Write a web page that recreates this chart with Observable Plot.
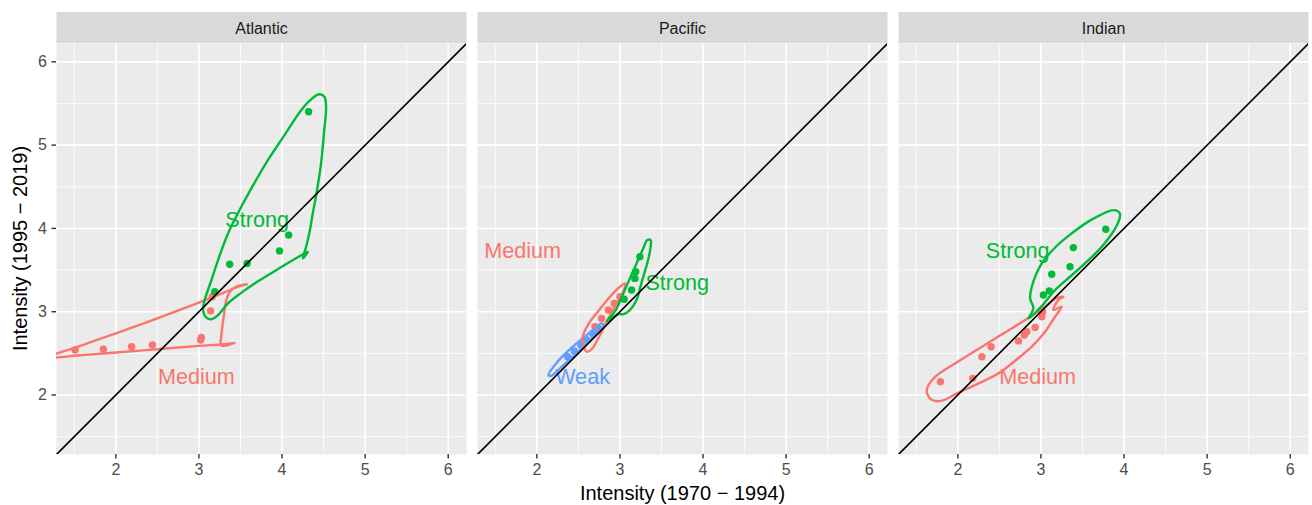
<!DOCTYPE html>
<html><head><meta charset="utf-8">
<script src="https://cdn.jsdelivr.net/npm/d3@7"></script>
<script src="https://cdn.jsdelivr.net/npm/@observablehq/plot@0.6"></script>
<style>
body{margin:0;background:#fff;}
#chart svg{display:block;}
</style>
</head><body><div id="chart"></div>
<script>
// ---------- data ----------
const basins = ["Atlantic", "Pacific", "Indian"];
const classes = ["Medium", "Strong", "Weak"];
const classColors = ["#F8766D", "#00BA38", "#619CFF"];
const axisLimits = [1.286, 6.22];
const majorTicks = [2, 3, 4, 5, 6];
const minorTicks = [1.5, 2.5, 3.5, 4.5, 5.5];
const xTitle = "Intensity (1970 − 1994)";
const yTitle = "Intensity (1995 − 2019)";

// points [x (1970-1994), y (1995-2019)]
const atlanticMedium = [[1.51,2.54],[1.85,2.55],[2.19,2.58],[2.44,2.60],[3.02,2.66],[3.03,2.69],[3.14,3.01],[3.16,3.18]];
const atlanticStrong = [[3.19,3.24],[3.37,3.57],[3.58,3.58],[3.97,3.73],[4.08,3.92],[4.32,5.40]];
const pacificWeak   = [[2.37,2.46],[2.45,2.53],[2.53,2.60],[2.60,2.66],[2.67,2.74],[2.74,2.80]];
const pacificMedium = [[2.70,2.82],[2.78,2.92],[2.86,3.02],[2.93,3.10],[3.00,3.18]];
const pacificStrong = [[3.05,3.15],[3.14,3.26],[3.18,3.40],[3.19,3.48],[3.24,3.66]];
const indianMedium  = [[1.79,2.16],[2.18,2.20],[2.29,2.46],[2.40,2.58],[2.73,2.65],[2.80,2.72],[2.83,2.76],[2.93,2.81],[3.01,2.94],[3.02,3.00]];
const indianStrong  = [[3.03,3.20],[3.10,3.25],[3.13,3.45],[3.35,3.54],[3.39,3.77],[3.78,3.99]];

// encircling outlines
const atlanticMediumHull = [[1.18,2.45],[1.6,2.48],[2.0,2.51],[2.5,2.55],[3.0,2.59],[3.3,2.61],[3.43,2.625],[3.27,2.595],[3.27,2.72],[3.30,2.95],[3.33,3.14],[3.38,3.25],[3.47,3.31],[3.58,3.33],[3.5,3.31],[3.3,3.23],[3.0,3.11],[2.5,2.92],[2.0,2.74],[1.6,2.60]];
const atlanticStrongHull = [[3.05,3.02],[3.07,3.14],[3.15,3.38],[3.23,3.62],[3.35,3.94],[3.51,4.26],[3.67,4.55],[3.83,4.82],[4.03,5.12],[4.23,5.42],[4.35,5.55],[4.45,5.61],[4.51,5.58],[4.53,5.45],[4.51,5.2],[4.47,4.78],[4.42,4.45],[4.37,4.18],[4.33,3.95],[4.29,3.78],[4.25,3.64],[4.31,3.72],[4.20,3.66],[4.03,3.56],[3.85,3.45],[3.67,3.34],[3.50,3.22],[3.35,3.10],[3.22,2.95],[3.15,2.91],[3.09,2.93]];
const pacificWeakHull = [[2.14,2.24],[2.25,2.40],[2.40,2.55],[2.55,2.68],[2.70,2.80],[2.78,2.86],[2.80,2.84],[2.72,2.74],[2.58,2.60],[2.42,2.45],[2.28,2.32],[2.17,2.23]];
const pacificMediumHull = [[2.60,2.52],[2.55,2.68],[2.62,2.85],[2.75,3.02],[2.88,3.18],[3.0,3.30],[3.06,3.34],[3.04,3.24],[2.95,3.08],[2.85,2.90],[2.75,2.70],[2.66,2.55]];
const pacificStrongHull = [[2.84,2.88],[2.95,3.02],[3.04,3.22],[3.12,3.40],[3.20,3.58],[3.28,3.76],[3.33,3.86],[3.37,3.86],[3.36,3.72],[3.32,3.55],[3.26,3.35],[3.20,3.14],[3.12,3.02],[3.04,2.97],[2.98,2.97]];
const indianMediumHull = [[1.63,2.08],[1.63,2.02],[1.69,1.94],[1.80,1.93],[1.99,2.02],[2.25,2.14],[2.49,2.26],[2.70,2.42],[2.89,2.58],[3.05,2.76],[3.17,2.94],[3.25,3.06],[3.15,3.02],[3.21,3.14],[3.27,3.18],[3.18,3.16],[3.05,3.06],[2.81,2.90],[2.55,2.74],[2.29,2.58],[2.0,2.40],[1.73,2.22]];
const indianStrongHull = [[2.85,2.92],[2.91,3.04],[2.87,3.16],[2.89,3.30],[3.01,3.58],[3.18,3.78],[3.37,3.94],[3.60,4.10],[3.88,4.22],[3.95,4.18],[3.92,4.05],[3.75,3.80],[3.53,3.58],[3.35,3.42],[3.17,3.26],[3.02,3.08]];

// group labels [basin, class, x, y]
const groupLabels = [
  ["Atlantic","Strong",3.70,4.10],["Atlantic","Medium",2.97,2.22],
  ["Pacific","Medium",1.83,3.73],["Pacific","Strong",3.69,3.34],["Pacific","Weak",2.55,2.22],
  ["Indian","Strong",2.72,3.73],["Indian","Medium",2.96,2.22]
];

// ---------- tables ----------
const points = [];
const addPts = (basin, cls, arr) => arr.forEach(([x, y]) => points.push({basin, cls, x, y}));
addPts("Atlantic","Medium",atlanticMedium); addPts("Atlantic","Strong",atlanticStrong);
addPts("Pacific","Weak",pacificWeak); addPts("Pacific","Medium",pacificMedium); addPts("Pacific","Strong",pacificStrong);
addPts("Indian","Medium",indianMedium); addPts("Indian","Strong",indianStrong);

const hulls = [];
const addHull = (basin, cls, arr) => arr.forEach(([x, y]) => hulls.push({basin, cls, x, y, key: basin + cls}));
addHull("Atlantic","Medium",atlanticMediumHull); addHull("Atlantic","Strong",atlanticStrongHull);
addHull("Pacific","Weak",pacificWeakHull); addHull("Pacific","Medium",pacificMediumHull); addHull("Pacific","Strong",pacificStrongHull);
addHull("Indian","Medium",indianMediumHull); addHull("Indian","Strong",indianStrongHull);

const labels = groupLabels.map(([basin, cls, x, y]) => ({basin, cls, x, y}));
const diag = axisLimits.map(v => ({x: v, y: v}));

const font = "'Liberation Sans', Arial, Helvetica, sans-serif";
const fmt = d => String(d);

const plot = Plot.plot({
  width: 1312, height: 505,
  marginTop: 43, marginBottom: 51, marginLeft: 55, marginRight: 3,
  style: {fontFamily: font, background: "white", overflow: "visible"},
  x: {domain: axisLimits},
  y: {domain: axisLimits},
  fx: {domain: basins, paddingInner: 0.025, paddingOuter: 0, axis: null, label: null},
  color: {domain: classes, range: classColors},
  marks: [
    Plot.frame({fill: "#ebebeb", stroke: null}),
    Plot.gridX(minorTicks, {stroke: "white", strokeOpacity: 1, strokeWidth: 0.8}),
    Plot.gridY(minorTicks, {stroke: "white", strokeOpacity: 1, strokeWidth: 0.8}),
    Plot.gridX(majorTicks, {stroke: "white", strokeOpacity: 1, strokeWidth: 1.6}),
    Plot.gridY(majorTicks, {stroke: "white", strokeOpacity: 1, strokeWidth: 1.6}),
    Plot.axisX(majorTicks, {tickSize: 4.5, tickPadding: 5, stroke: "#333333", strokeWidth: 1.4, fill: "#4d4d4d", fontSize: 16, tickFormat: fmt, label: null}),
    Plot.axisY(majorTicks, {tickSize: 4.5, tickPadding: 5, stroke: "#333333", strokeWidth: 1.4, fill: "#4d4d4d", fontSize: 16, tickFormat: fmt, label: null}),
    Plot.dot(points, {x: "x", y: "y", fx: "basin", fill: "cls", r: 3.7}),
    Plot.line(hulls, {x: "x", y: "y", z: "key", fx: "basin", stroke: "cls", strokeWidth: 2.4, curve: "catmull-rom-closed", clip: true}),
    Plot.text(labels, {x: "x", y: "y", fx: "basin", text: "cls", fill: "cls", fontSize: 21.6}),
    Plot.line(diag, {x: "x", y: "y", stroke: "black", strokeWidth: 1.6, clip: true})
  ]
});

const container = document.getElementById("chart");
container.appendChild(plot);

// facet strips + axis titles
const svg = d3.select(plot);
const svgBox = plot.getBoundingClientRect();
const frames = Array.from(plot.querySelectorAll('g[aria-label="frame"] rect'))
  .map(r => r.getBoundingClientRect())
  .sort((a, b) => a.left - b.left);
frames.forEach((r, i) => {
  const x0 = r.left - svgBox.left, w = r.width;
  svg.append("rect").attr("x", x0).attr("y", 12).attr("width", w).attr("height", 31).attr("fill", "#d9d9d9");
  svg.append("text").attr("x", x0 + w / 2).attr("y", 28)
    .attr("text-anchor", "middle").attr("dominant-baseline", "central")
    .attr("font-family", font).attr("font-size", 16).attr("fill", "#1a1a1a")
    .text(basins[i]);
});
const left = frames.length ? frames[0].left - svgBox.left : 55;
const right = frames.length ? frames[frames.length - 1].right - svgBox.left : 1309;
svg.append("text").attr("x", (left + right) / 2).attr("y", 493)
  .attr("text-anchor", "middle").attr("dominant-baseline", "central")
  .attr("font-family", font).attr("font-size", 20).attr("fill", "black").text(xTitle);
svg.append("text").attr("transform", "translate(20,248.5) rotate(-90)")
  .attr("text-anchor", "middle").attr("dominant-baseline", "central")
  .attr("font-family", font).attr("font-size", 20).attr("fill", "black").text(yTitle);
</script>
</body></html>
